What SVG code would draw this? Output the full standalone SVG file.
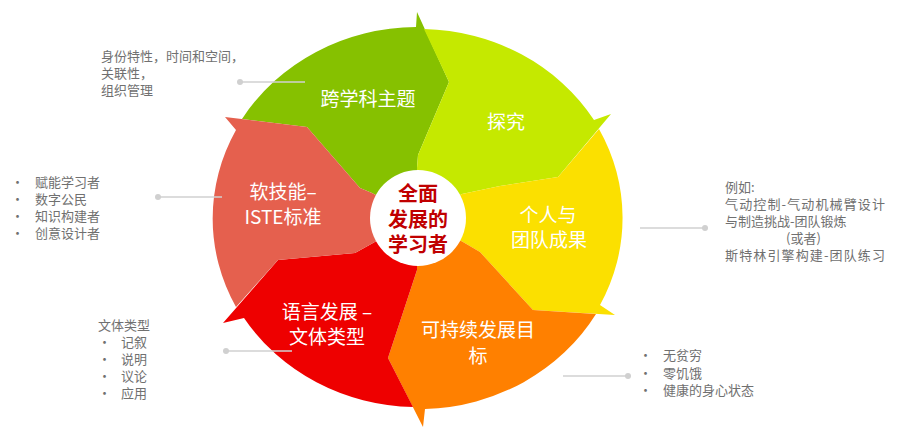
<svg xmlns="http://www.w3.org/2000/svg" width="899" height="442" viewBox="0 0 899 442">
<style>
.lbl{font-family:"Noto Sans CJK SC","Liberation Sans",sans-serif;font-size:19px;fill:#fff;text-anchor:middle;dominant-baseline:central}
.ctr{font-family:"Noto Sans CJK SC",sans-serif;font-size:20px;font-weight:bold;fill:#c00000;text-anchor:middle;dominant-baseline:central}
.note{font-family:"Noto Sans CJK SC","Liberation Sans",sans-serif;font-size:13px;fill:#707070;dominant-baseline:central}
.ln{stroke:#d0d0d0;stroke-width:1.3}
.dot{fill:#d0d0d0}
</style>
<rect width="899" height="442" fill="#fff"/>
<g id="seg-green"><path fill="#86c100" d="M242 119 L307 127 L360 188 L372 193 L418 218 L417 168 L418 155 L449 82 L417 12 L416 27 A205 191 0 0 0 242 119 Z"/><text class="lbl" x="368" y="97">跨学科主题</text></g>
<g id="seg-lime"><path fill="#c5e900" d="M424 29 L449 82 L418 155 L417 168 L418 218 L462 194 L500 186 L558 177 L611 114 L594 120 A205 191 0 0 0 424 29 Z"/><text class="lbl" x="506" y="120">探究</text></g>
<g id="seg-yellow"><path fill="#fbe000" d="M599 129 L558 177 L500 186 L462 194 L418 218 L463 242 L480 252 L533 310 L615 315 L600 305 A205 191 0 0 0 599 129 Z"/><text class="lbl" x="548" y="213">个人与</text><text class="lbl" x="549" y="238">团队成果</text></g>
<g id="seg-orange"><path fill="#ff8000" d="M596 314 L533 310 L480 252 L463 242 L418 218 L417 266 L417 270 L388 358 L423 427 L425 409 A205 191 0 0 0 596 314 Z"/><text class="lbl" x="478" y="328">可持续发展目</text><text class="lbl" x="478" y="354">标</text></g>
<g id="seg-red"><path fill="#ee0000" d="M413 407 L388 358 L417 270 L417 266 L418 218 L373 243 L355 253 L278 260 L223 323 L244 318 A205 191 0 0 0 413 407 Z"/><text class="lbl" x="327" y="310">语言发展 –</text><text class="lbl" x="327" y="335">文体类型</text></g>
<g id="seg-salmon"><path fill="#e5604e" d="M236 307 L278 260 L355 253 L373 243 L418 218 L372 193 L360 188 L307 127 L225 117 L236 130 A205 191 0 0 0 236 307 Z"/><text class="lbl" x="283" y="190">软技能–</text><text class="lbl" x="283" y="215">ISTE标准</text></g>
<g id="center"><circle cx="418" cy="218" r="48" fill="#fff"/><text class="ctr" x="418" y="192">全面</text><text class="ctr" x="418" y="218">发展的</text><text class="ctr" x="418" y="243">学习者</text></g>
<g id="connectors">
<line class="ln" x1="240" y1="82" x2="305" y2="82"/><circle class="dot" cx="240" cy="82" r="3"/>
<line class="ln" x1="158" y1="197" x2="222" y2="197"/><circle class="dot" cx="158" cy="197" r="3"/>
<line class="ln" x1="640" y1="228" x2="705" y2="228"/><circle class="dot" cx="705" cy="228" r="3"/>
<line class="ln" x1="563" y1="376" x2="628" y2="376"/><circle class="dot" cx="628" cy="376" r="3"/>
<line class="ln" x1="226" y1="351" x2="292" y2="351"/><circle class="dot" cx="226" cy="351" r="3"/>
</g>
<g id="note-top"><text class="note" x="101" y="55">身份特性，时间和空间，</text><text class="note" x="101" y="72">关联性，</text><text class="note" x="101" y="89">组织管理</text></g>
<g id="note-left"><text class="note" x="11" y="181">•</text><text class="note" x="35" y="181">赋能学习者</text><text class="note" x="11" y="198">•</text><text class="note" x="35" y="198">数字公民</text><text class="note" x="11" y="215">•</text><text class="note" x="35" y="215">知识构建者</text><text class="note" x="11" y="232">•</text><text class="note" x="35" y="232">创意设计者</text></g>
<g id="note-right"><text class="note" x="725" y="186">例如:</text><text class="note" x="725" y="203" textLength="160">气动控制-气动机械臂设计</text><text class="note" x="725" y="220">与制造挑战-团队锻炼</text><text class="note" x="786" y="237">(或者)</text><text class="note" x="725" y="254" textLength="160">斯特林引擎构建-团队练习</text></g>
<g id="note-br"><text class="note" x="639" y="354">•</text><text class="note" x="663" y="354">无贫穷</text><text class="note" x="639" y="372">•</text><text class="note" x="663" y="372">零饥饿</text><text class="note" x="639" y="389">•</text><text class="note" x="663" y="389">健康的身心状态</text></g>
<g id="note-bl"><text class="note" x="98" y="324">文体类型</text><text class="note" x="98" y="341">•</text><text class="note" x="121" y="341">记叙</text><text class="note" x="98" y="358">•</text><text class="note" x="121" y="358">说明</text><text class="note" x="98" y="375">•</text><text class="note" x="121" y="375">议论</text><text class="note" x="98" y="392">•</text><text class="note" x="121" y="392">应用</text></g>
</svg>
